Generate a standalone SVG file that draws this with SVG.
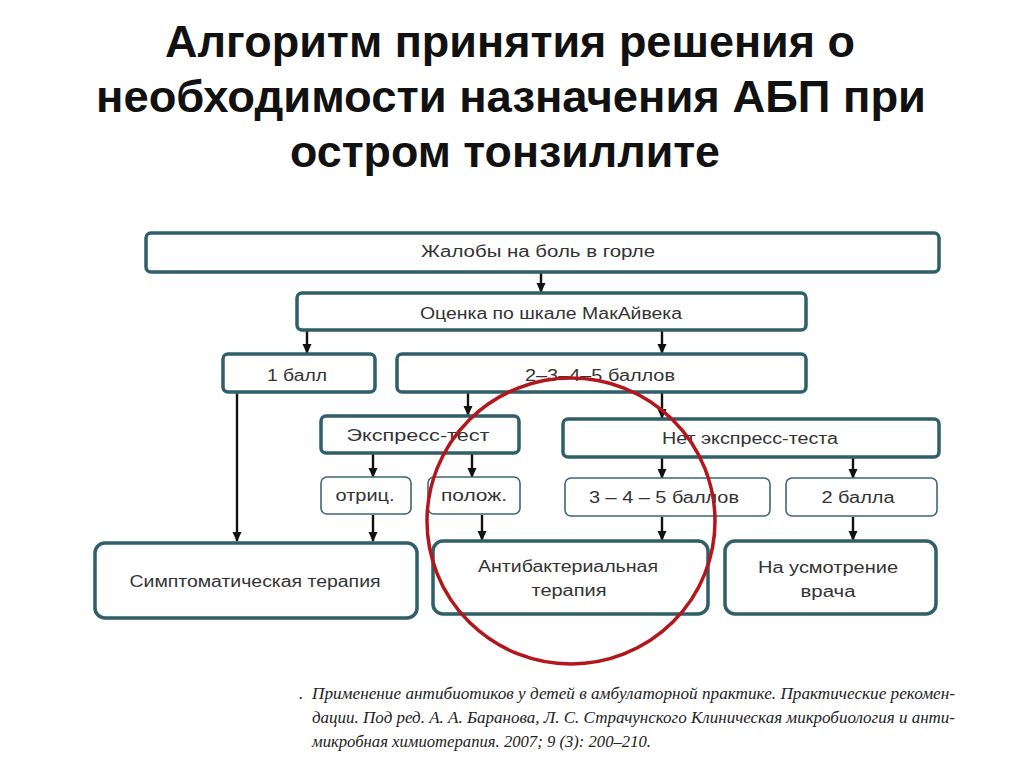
<svg xmlns="http://www.w3.org/2000/svg" width="1024" height="768" viewBox="0 0 1024 768">
<defs>
<marker id="ah" markerWidth="10" markerHeight="10" refX="9" refY="5" orient="auto" markerUnits="userSpaceOnUse">
<path d="M0,0.5 L10,5 L0,9.5 Z" fill="#111"/>
</marker>
<style>
.title{font-family:"Liberation Sans",Arial,sans-serif;font-weight:bold;font-size:44px;fill:#111;text-anchor:middle}
.box{fill:#fff;stroke:#2f5f69;stroke-width:3.5}
.thin{fill:#fff;stroke:#3c6872;stroke-width:1.6}
.t{font-family:"Liberation Sans",Arial,sans-serif;font-size:16px;fill:#333;text-anchor:middle}
.c{stroke:#111;stroke-width:2.4;fill:none;marker-end:url(#ah)}
.ref{font-family:"Liberation Serif","Times New Roman",serif;font-style:italic;font-size:17px;fill:#222}
</style>
</defs>
<rect width="1024" height="768" fill="#fff"/>
<g id="title">
<text class="title" x="510" y="57" textLength="690" lengthAdjust="spacingAndGlyphs">Алгоритм принятия решения о</text>
<text class="title" x="511" y="112" textLength="830" lengthAdjust="spacingAndGlyphs">необходимости назначения АБП при</text>
<text class="title" x="505" y="167" textLength="430" lengthAdjust="spacingAndGlyphs">остром тонзиллите</text>
</g>
<g id="connectors">
<line class="c" x1="541" y1="273" x2="541" y2="292"/>
<line class="c" x1="307" y1="331" x2="307" y2="353"/>
<line class="c" x1="662" y1="331" x2="662" y2="353"/>
<line class="c" x1="237" y1="393" x2="237" y2="541"/>
<line class="c" x1="468" y1="393" x2="468" y2="415"/>
<line class="c" x1="662" y1="393" x2="662" y2="418"/>
<line class="c" x1="373" y1="454" x2="373" y2="477"/>
<line class="c" x1="472" y1="454" x2="472" y2="477"/>
<line class="c" x1="373" y1="515" x2="373" y2="541"/>
<line class="c" x1="482" y1="515" x2="482" y2="540"/>
<line class="c" x1="662" y1="458" x2="662" y2="478"/>
<line class="c" x1="853" y1="458" x2="853" y2="478"/>
<line class="c" x1="662" y1="517" x2="662" y2="540"/>
<line class="c" x1="853" y1="517" x2="853" y2="540"/>
</g>
<g id="n1"><rect class="box" x="146" y="233" width="793" height="39" rx="5"/><text class="t" x="538" y="257" textLength="234" lengthAdjust="spacingAndGlyphs">Жалобы на боль в горле</text></g>
<g id="n2"><rect class="box" x="297" y="293" width="509" height="37" rx="5"/><text class="t" x="551" y="319" textLength="262" lengthAdjust="spacingAndGlyphs">Оценка по шкале МакАйвека</text></g>
<g id="n3"><rect class="box" x="223" y="354" width="152" height="38" rx="5"/><text class="t" x="297" y="381" textLength="60" lengthAdjust="spacingAndGlyphs">1 балл</text></g>
<g id="n4"><rect class="box" x="397" y="354" width="409" height="38" rx="5"/><text class="t" x="600" y="381" textLength="150" lengthAdjust="spacingAndGlyphs">2–3–4–5 баллов</text></g>
<g id="n5"><rect class="box" x="321" y="416" width="198" height="37" rx="5"/><text class="t" x="418" y="441" textLength="143" lengthAdjust="spacingAndGlyphs">Экспресс-тест</text></g>
<g id="n6"><rect class="box" x="563" y="419" width="376" height="38" rx="5"/><text class="t" x="750" y="444" textLength="176" lengthAdjust="spacingAndGlyphs">Нет экспресс-теста</text></g>
<g id="n7"><rect class="thin" x="321" y="477" width="90" height="37" rx="6"/><text class="t" x="365" y="501" textLength="59" lengthAdjust="spacingAndGlyphs">отриц.</text></g>
<g id="n8"><rect class="thin" x="428" y="477" width="92" height="37" rx="6"/><text class="t" x="474" y="501" textLength="66" lengthAdjust="spacingAndGlyphs">полож.</text></g>
<g id="n9"><rect class="thin" x="565" y="478" width="205" height="38" rx="6"/><text class="t" x="664" y="503" textLength="150" lengthAdjust="spacingAndGlyphs">3 – 4 – 5  баллов</text></g>
<g id="n10"><rect class="thin" x="786" y="478" width="151" height="38" rx="6"/><text class="t" x="858" y="503" textLength="73" lengthAdjust="spacingAndGlyphs">2 балла</text></g>
<g id="n11"><rect class="box" x="95" y="543" width="322" height="75" rx="10"/><text class="t" x="255" y="587" textLength="251" lengthAdjust="spacingAndGlyphs">Симптоматическая терапия</text></g>
<g id="n12"><rect class="box" x="433" y="541" width="275" height="73" rx="10"/><text class="t" x="568" y="572" textLength="180" lengthAdjust="spacingAndGlyphs">Антибактериальная</text><text class="t" x="569" y="596" textLength="75" lengthAdjust="spacingAndGlyphs">терапия</text></g>
<g id="n13"><rect class="box" x="725" y="541" width="211" height="73" rx="10"/><text class="t" x="828" y="573" textLength="140" lengthAdjust="spacingAndGlyphs">На усмотрение</text><text class="t" x="828" y="597" textLength="55" lengthAdjust="spacingAndGlyphs">врача</text></g>
<ellipse id="highlight" cx="571" cy="521" rx="144" ry="143" fill="none" stroke="#b3161b" stroke-width="3.5"/>
<g id="reference">
<text class="ref" x="299" y="699">.</text>
<text class="ref" x="312" y="699" textLength="643" lengthAdjust="spacingAndGlyphs">Применение антибиотиков у детей в амбулаторной практике. Практические рекомен-</text>
<text class="ref" x="312" y="723" textLength="643" lengthAdjust="spacingAndGlyphs">дации. Под ред. А. А. Баранова, Л. С. Страчунского Клиническая микробиология и анти-</text>
<text class="ref" x="312" y="747" textLength="339" lengthAdjust="spacingAndGlyphs">микробная химиотерапия. 2007; 9 (3): 200–210.</text>
</g>
</svg>
